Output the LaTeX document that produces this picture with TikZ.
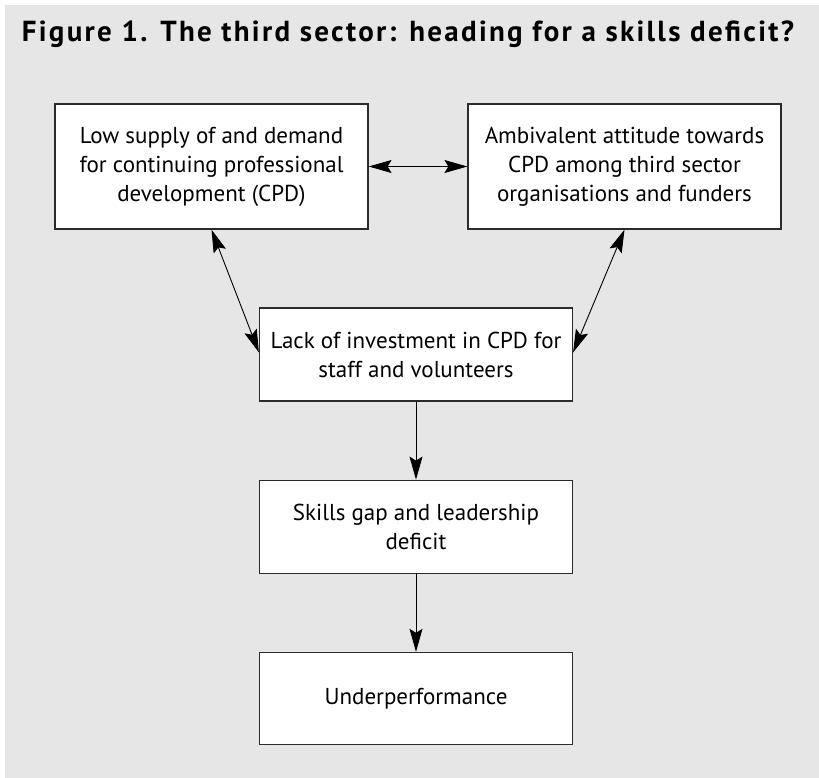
\documentclass[tikz,border=0pt]{standalone}
\usepackage{fontspec}
\setmainfont{PT Sans}
\newfontfamily\titlefont[LetterSpace=7.9]{PT Sans Bold}
\usetikzlibrary{arrows.meta,positioning}
\definecolor{fondo}{HTML}{E6E6E6}
\definecolor{borde}{HTML}{2B2B2B}

\begin{document}
\begin{tikzpicture}[x=1pt,y=-1pt]
  \tikzset{main node/.style={rectangle, draw=borde, line width=1.2pt, fill=white,
		align=center, minimum width=313pt, font=\fontsize{23}{29}\selectfont}, }
\tikzset{punta/.tip={Stealth[length=23pt,width=13pt,inset=4pt]},}
\tikzset{linea/.style={-punta, line width=0.9pt},}
\tikzset{doble/.style={punta-punta, line width=0.9pt},}
  \useasboundingbox (0,0) rectangle (819,778);
  \fill[fondo] (5,5) rectangle (819,778);
  \node[anchor=base west, inner sep=0pt] (0) at (21.7,41.7)
     {\titlefont\fontsize{29}{32}\selectfont Figure 1. The third sector: heading for a skills deficit?};
    \node[main node, minimum height=125pt] (1) at (211.5,166.5)
      {Low supply of and demand\\for continuing professional\\development (CPD)};
   \node[main node, minimum height=125pt] (2) at (624.5,166.5)
      {Ambivalent attitude towards\\CPD among third sector\\organisations and funders};
   \node[main node, minimum height=93pt] (3) at (416,354.5)
      {Lack of investment in CPD for\\staff and volunteers};
   \node[main node, minimum height=93pt] (4) [below =78pt of 3]
      {Skills gap and leadership\\deficit};
   \node[main node, minimum height=92pt] (5) [below =78pt of 4]
      {Underperformance};
%
\draw[doble] (1.east) -- (2.west);
\draw[doble] (1.south) -- ([yshift=2pt]3.west);
\draw[doble] (2.south) -- ([yshift=2pt]3.east);
\foreach \x /\y in{3/4,4/5}
  \draw[linea] (\x) -- (\y);
%
\end{tikzpicture}
\end{document}
